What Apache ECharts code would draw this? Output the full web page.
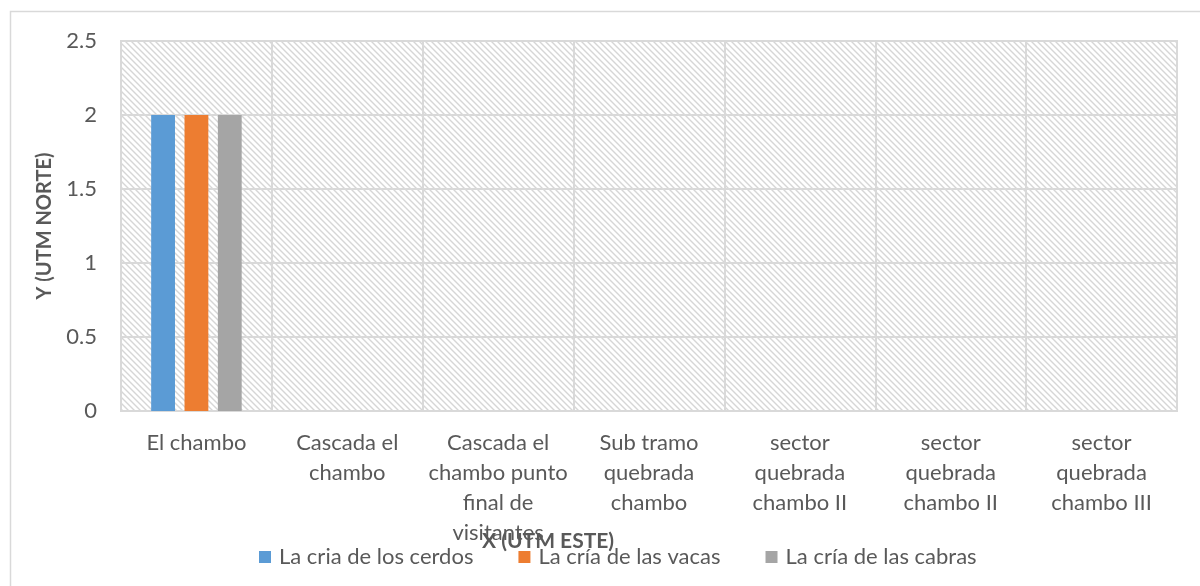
<!DOCTYPE html>
<html>
<head>
<meta charset="utf-8">
<script src="https://cdn.jsdelivr.net/npm/echarts@6/dist/echarts.min.js"></script>
<style>
  html, body { margin: 0; padding: 0; background: #fff; }
  #main { width: 1200px; height: 586px; }
</style>
</head>
<body>
<div id="main"></div>
<script>
// datos
var categories = [
  'El chambo',
  'Cascada el\nchambo',
  'Cascada el\nchambo punto\nfinal de\nvisitantes',
  'Sub tramo\nquebrada\nchambo',
  'sector\nquebrada\nchambo II',
  'sector\nquebrada\nchambo II',
  'sector\nquebrada\nchambo III'
];
var cerdos = [2, 0, 0, 0, 0, 0, 0];
var vacas = [2, 0, 0, 0, 0, 0, 0];
var cabras = [2, 0, 0, 0, 0, 0, 0];
var seriesNames = ['La cria de los cerdos', 'La cría de las vacas', 'La cría de las cabras'];

// patron rayado del fondo
function hatch() {
  var c = document.createElement('canvas');
  c.width = 6; c.height = 6;
  var ctx = c.getContext('2d');
  ctx.fillStyle = '#fff';
  ctx.fillRect(0, 0, 6, 6);
  ctx.strokeStyle = '#d6d6d6';
  ctx.lineWidth = 1.4;
  ctx.beginPath();
  ctx.moveTo(-1, -1); ctx.lineTo(7, 7);
  ctx.moveTo(-1, 5); ctx.lineTo(1, 7);
  ctx.moveTo(5, -1); ctx.lineTo(7, 1);
  ctx.stroke();
  return c;
}

var font = 'Lato, "Open Sans", sans-serif';
var chart = echarts.init(document.getElementById('main'));
var option = {
  backgroundColor: '#fff',
  color: ['#5b9bd5', '#ed7d31', '#a5a5a5'],
  textStyle: { fontFamily: font },
  grid: {
    left: 121, right: 23, top: 41, bottom: 175,
    show: true,
    backgroundColor: { image: hatch(), repeat: 'repeat' },
    borderColor: '#d9d9d9',
    borderWidth: 2
  },
  legend: {
    left: 259, top: 546, padding: 0,
    icon: 'rect', itemWidth: 12, itemHeight: 12, itemGap: 45,
    textStyle: { fontSize: 22, color: '#595959', fontFamily: font, padding: [0, 0, 0, 3] },
    data: seriesNames
  },
  xAxis: {
    type: 'category',
    data: categories,
    axisLine: { lineStyle: { color: '#d9d9d9', width: 2 } },
    axisTick: { show: false },
    splitLine: { show: true, interval: 0, lineStyle: { color: '#d9d9d9', width: 2 } },
    axisLabel: {
      interval: 0, margin: 17, fontSize: 22, lineHeight: 30,
      color: '#595959', fontFamily: font, verticalAlign: 'top'
    }
  },
  yAxis: {
    type: 'value',
    min: 0, max: 2.5, interval: 0.5,
    name: 'Y (UTM NORTE)',
    nameLocation: 'middle', nameGap: 66, nameRotate: 90,
    nameTextStyle: { fontSize: 20, fontWeight: 'bold', color: '#595959', fontFamily: font },
    axisLine: { show: false },
    axisTick: { show: false },
    splitLine: { lineStyle: { color: '#d9d9d9', width: 2 } },
    axisLabel: { fontSize: 22, color: '#595959', margin: 24, fontFamily: font }
  },
  graphic: [
    {
      type: 'rect', z: -1, silent: true,
      shape: { x: 10.5, y: 11.5, width: 1300, height: 700 },
      style: { fill: 'none', stroke: '#d9d9d9', lineWidth: 1.5 }
    },
    {
      type: 'text', left: 482, top: 531,
      style: { text: 'X (UTM ESTE)', fill: '#595959', font: 'bold 21px ' + font }
    }
  ],
  series: [
    { name: seriesNames[0], type: 'bar', data: cerdos, barGap: '40%', barCategoryGap: '40%' },
    { name: seriesNames[1], type: 'bar', data: vacas, barGap: '40%', barCategoryGap: '40%' },
    { name: seriesNames[2], type: 'bar', data: cabras, barGap: '40%', barCategoryGap: '40%' }
  ]
};
chart.setOption(option);
</script>
</body>
</html>
